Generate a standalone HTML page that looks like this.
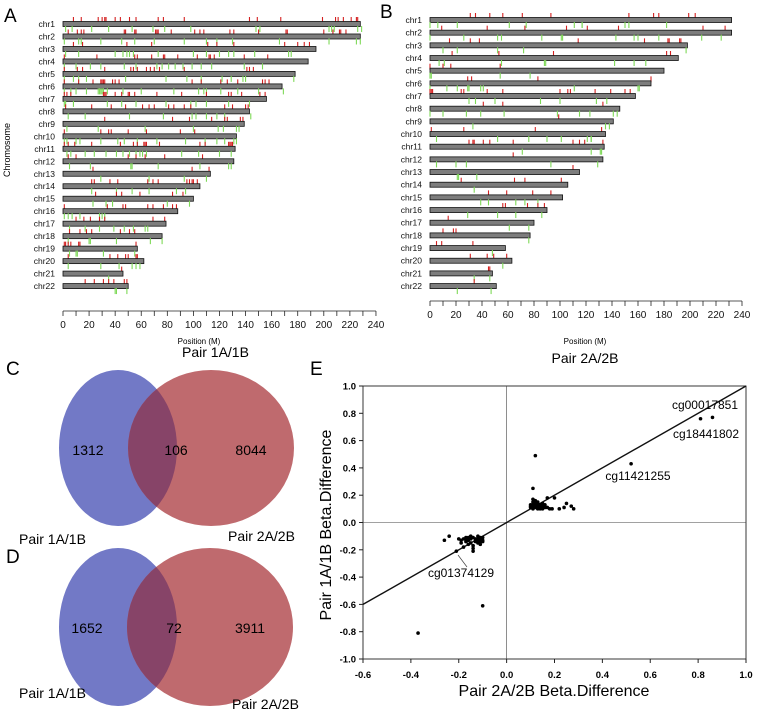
<!DOCTYPE html>
<html><head><meta charset="utf-8"><style>
body{margin:0;background:#fff;width:758px;height:714px;overflow:hidden;font-family:"Liberation Sans",Arial,sans-serif}
svg{position:absolute;left:0;top:0}
</style></head><body>
<svg id="fig" width="758" height="714" viewBox="0 0 758 714" font-family="Liberation Sans, Arial, sans-serif">
 <defs>
  <clipPath id="clipC"><ellipse cx="118" cy="448" rx="59" ry="78"/></clipPath>
  <clipPath id="clipD"><ellipse cx="118" cy="627" rx="59" ry="79"/></clipPath>
 </defs>
 <g id="panelA"></g>
 <g id="panelB"></g>
 <g id="venn">
  <text x="6" y="375" font-size="19">C</text>
  <text x="182" y="357" font-size="14">Pair 1A/1B</text>
  <ellipse cx="118" cy="448" rx="59" ry="78" fill="#7279c6"/>
  <ellipse cx="211" cy="448" rx="83" ry="78" fill="#bf6a6e"/>
  <ellipse cx="211" cy="448" rx="83" ry="78" fill="#874468" clip-path="url(#clipC)"/>
  <text x="88" y="455" font-size="14" text-anchor="middle">1312</text>
  <text x="176" y="455" font-size="14" text-anchor="middle">106</text>
  <text x="251" y="455" font-size="14" text-anchor="middle">8044</text>
  <text x="19" y="544" font-size="14">Pair 1A/1B</text>
  <text x="228" y="541" font-size="14">Pair 2A/2B</text>
  <text x="6" y="563" font-size="19">D</text>
  <ellipse cx="118" cy="627" rx="59" ry="79" fill="#7279c6"/>
  <ellipse cx="210" cy="627" rx="83" ry="79" fill="#bf6a6e"/>
  <ellipse cx="210" cy="627" rx="83" ry="79" fill="#874468" clip-path="url(#clipD)"/>
  <text x="87" y="633" font-size="14" text-anchor="middle">1652</text>
  <text x="174" y="633" font-size="14" text-anchor="middle">72</text>
  <text x="250" y="633" font-size="14" text-anchor="middle">3911</text>
  <text x="19" y="698" font-size="14">Pair 1A/1B</text>
  <text x="232" y="709" font-size="14">Pair 2A/2B</text>
 </g>
 <g id="panelE"></g>
</svg>
<script>
const NS="http://www.w3.org/2000/svg";
const chrNames=["chr1","chr2","chr3","chr4","chr5","chr6","chr7","chr8","chr9","chr10","chr11","chr12","chr13","chr14","chr15","chr16","chr17","chr18","chr19","chr20","chr21","chr22"];
const lengthsA=[228,228,194,188,178,168,156,143,139,133,132,131,113,105,100,88,79,76,57,62,46,50];
const lengthsB=[232,232,198,191,180,170,158,146,141,135,134,133,115,106,102,90,80,77,58,63,48,51];
const positionTicks=[0,20,40,60,80,100,120,140,160,180,200,220,240];
const redA=[[8,14,27,30,32,33,40,44,51,56,73,77,93,143,149,167,199,209,211,215,221,225,226],[4,11,14,16,47,48,55,56,71,72,73,83,101,105,108,128,131,150,171,172,200,207,212,213,217],[8,15,49,68,111,118,131,170,180,185,189],[1,26,55,57,68,77,78,88,103,112,113,116,139,157],[1,11,15,32,52,54,57,64,67,70,74,93,141,143,146],[1,12,23,29,30,31,32,38,40,43,99,106,121,126,134,153,155,158],[1,3,6,31,32,33,40,45,50,51,55,72,91,110,127,129,137,151,155],[2,22,37,48,61,66,70,81,85,93,98,124,130,140,142],[32,84,97,114,124,126,136,138],[1,29,35,37,50,64,90,101],[1,4,9,22,44,54,57,62,63,64,74,105,109,127,128,129,130],[4,10,50,56,63,78,107],[23,99,112],[22,24,36,42,65,69,73,95,97,99,100,103],[25,41,45,59,84,92],[1,34,46,48,65,69,77,84,87],[10,16,21,28,32,69,78],[5,13,18,22,44,51,55],[1,2,4,6,12,13,56],[4,36,42,48,50,56,57],[45],[17,24,31,35,39,47,49]];
const greenA=[[2,7,22,35,53,69,78,98,148,151,204,206,208,226,229],[1,12,14,29,45,55,70,93,110,118,130,166,204,225,228],[2,12,40,46,49,51,54,73,100,110,120,127,131,147,173,175],[1,10,21,29,47,56,72,76,81,86,92,99,106,114,139,153],[1,8,12,18,48,79,95,106,122,129,138,140,177],[1,6,10,18,27,28,29,30,31,34,46,60,85,104,108,110,121,134,150,169],[1,2,8,34,45,56,79,98,102,110,127,143],[4,17,51,77,99,102,110,118,124,144],[3,27,63,100,119,123,133,135],[1,3,10,13,29,42,47,57,72,94,109,118,124,131,133],[3,6,17,24,33,41,46,51,56,59,61,64,91,104,120,129],[5,21,52,53,73,105,127,129],[29,66,93,110],[22,41,53,66,87,94],[23,33,38,80,97],[1,4,7,13,28,30,32],[5,17,28,39,47,54,63,65],[4,20,21,41,67,76],[5,10,11,31,55],[4,29,43,53,56,59],[35],[40,41,49]];
const redB=[[31,35,46,56,71,93,153,172,176,199,204],[9,44,73,105,121,145,210,227],[15,31,38,114,165,183,184,192,193],[17,53,95,182,185],[0,10,16,54],[29,32,83,170],[0,1,2,24,26,44,56,100,106,108,127,139,150,154],[41,56,133],[99],[1,26,81,132],[30,33,34,41,46,64,110,115,119,133],[64],[110],[24,65,73,101],[45,59,79,93],[56,58,75,83,88],[14],[10,18,20],[5,9,33],[31,44,49,59],[45,46],[34]];
const greenB=[[0,6,21,61,74,111,117,117,150,153,182],[0,26,52,55,86,101,102,143,157,160,176,209,224],[10,21,52,72,197],[7,11,55,88,89,142,157,166],[0,1,54,77],[0,13,21,29,30,39,41,111,160,161],[30,35,50,85,100,128,136],[0,10,28,39,57,98,115,123,141,144],[33,135,138],[5,52,76,90,101,121,124,124],[71,124,131,132],[5,20,28,93,129],[21,22,36],[34],[39,45,66,73,83],[29,52,66,86],[61,76],[76],[48],[56],[34,46],[21,47]];

function mk(parent,tag,attrs,txt){const e=document.createElementNS(NS,tag);for(const k in attrs)e.setAttribute(k,attrs[k]);if(txt!==undefined)e.textContent=txt;parent.appendChild(e);return e;}

function chromPanel(g,cfg){
  const sx=v=>cfg.x0+v*cfg.k;
  const sy=i=>cfg.y0+i*cfg.dy;
  chrNames.forEach((n,i)=>{
    const y=sy(i);
    const t=mk(g,"text",{x:cfg.lx,y:y+3,"font-size":8.5,"text-anchor":"end",fill:"#111"},n);
    
    
    cfg.red[i].forEach(p=>{const l=mk(g,"line",{x1:sx(p),x2:sx(p),y1:y-7,y2:y-1,stroke:"#d42020","stroke-width":1.1});
      
      });
    const r=mk(g,"rect",{x:sx(0),y:y-2.5,width:cfg.len[i]*cfg.k,height:5,fill:"#7d7d7d",stroke:"#111","stroke-width":0.8});
    
    
    cfg.green[i].forEach(p=>{const l=mk(g,"line",{x1:sx(p),x2:sx(p),y1:y+2,y2:y+8,stroke:"#7ed957","stroke-width":1.1});
      
      });
  });
  const ax=mk(g,"line",{x1:sx(0),x2:sx(240),y1:cfg.ay,y2:cfg.ay,stroke:"#222","stroke-width":0.8});
  
  
  for(let v=0;v<=240;v+=10){mk(g,"line",{x1:sx(v),x2:sx(v),y1:cfg.ay,y2:cfg.ay+5,stroke:"#222","stroke-width":0.8});}
  positionTicks.forEach(v=>{const t=mk(g,"text",{x:sx(v),y:cfg.ay+17,"font-size":10,"text-anchor":"middle",fill:"#111"},String(v));
    
    });
  const xt=mk(g,"text",{x:cfg.xtX,y:344,"font-size":8,"text-anchor":"middle"},"Position (M)");
  
  
}
const gA=document.getElementById('panelA');
mk(gA,"text",{x:4,y:22,"font-size":19},"A");
chromPanel(gA,{x0:63,k:1.304,y0:24,dy:12.48,lx:55,ay:311,red:redA,green:greenA,len:lengthsA,xtX:199});
const yt=mk(gA,"text",{x:10,y:150,"font-size":9,"text-anchor":"middle",transform:"rotate(-90 10 150)"},"Chromosome");


const gB=document.getElementById('panelB');
mk(gB,"text",{x:380,y:18,"font-size":19},"B");
chromPanel(gB,{x0:430,k:1.3,y0:20,dy:12.67,lx:422,ay:301,red:redB,green:greenB,len:lengthsB,xtX:585});
const bt=mk(gB,"text",{x:585,y:363,"font-size":14,"text-anchor":"middle"},"Pair 2A/2B");



// Panel E scatter
const xVals=[0.12,0.11,0.52,0.81,0.86,-0.37,-0.10,-0.26,-0.24,-0.21,-0.14,0.20,0.17,0.22,0.24,0.25,0.27,0.28,0.19,0.16,
0.10,0.11,0.12,0.13,0.14,0.15,0.10,0.11,0.12,0.13,0.14,0.15,0.16,0.11,0.12,0.13,0.14,0.15,0.17,0.18,0.11,0.12,0.13,0.14,0.12,0.11,0.13,0.10,0.15,0.16,
-0.20,-0.19,-0.18,-0.17,-0.16,-0.15,-0.14,-0.13,-0.12,-0.11,-0.10,-0.19,-0.17,-0.15,-0.13,-0.12,-0.11,-0.10,-0.18,-0.16,-0.14,-0.12,-0.11,-0.13,-0.15,-0.17,-0.12,-0.10,-0.11,-0.14,-0.16];
const yVals=[0.49,0.25,0.43,0.76,0.77,-0.81,-0.61,-0.13,-0.10,-0.21,-0.21,0.18,0.18,0.10,0.11,0.14,0.12,0.10,0.10,0.11,
0.11,0.12,0.13,0.14,0.12,0.11,0.13,0.15,0.16,0.12,0.10,0.13,0.12,0.10,0.11,0.11,0.13,0.14,0.11,0.10,0.17,0.14,0.15,0.11,0.12,0.13,0.10,0.12,0.10,0.13,
-0.12,-0.13,-0.12,-0.11,-0.13,-0.12,-0.11,-0.13,-0.12,-0.11,-0.13,-0.15,-0.14,-0.15,-0.14,-0.15,-0.12,-0.11,-0.18,-0.16,-0.17,-0.14,-0.14,-0.12,-0.10,-0.12,-0.10,-0.14,-0.16,-0.19,-0.11];
const xTicks=[-0.6,-0.4,-0.2,0.0,0.2,0.4,0.6,0.8,1.0];
const yTicks=[-1.0,-0.8,-0.6,-0.4,-0.2,0.0,0.2,0.4,0.6,0.8,1.0];
const X=v=>363+(v+0.6)/1.6*383;
const Y=v=>659-(v+1)/2*273;
const gE=document.getElementById('panelE');
mk(gE,"text",{x:310,y:375,"font-size":19},"E");
const fr=mk(gE,"rect",{x:X(-0.6),y:Y(1),width:X(1)-X(-0.6),height:Y(-1)-Y(1),fill:"none",stroke:"#222","stroke-width":0.9});


mk(gE,"line",{x1:X(0),x2:X(0),y1:Y(1),y2:Y(-1),stroke:"#444","stroke-width":0.6});
mk(gE,"line",{x1:X(-0.6),x2:X(1),y1:Y(0),y2:Y(0),stroke:"#444","stroke-width":0.6});
const dl=mk(gE,"line",{x1:X(-0.6),y1:Y(-0.6),x2:X(1),y2:Y(1),stroke:"#111","stroke-width":1.4});


xTicks.forEach(v=>{mk(gE,"line",{x1:X(v),x2:X(v),y1:Y(-1),y2:Y(-1)+4,stroke:"#222"});
  const t=mk(gE,"text",{x:X(v),y:Y(-1)+19,"font-size":9.5,"font-weight":"bold","text-anchor":"middle"},v.toFixed(1));
  
  });
yTicks.forEach(v=>{mk(gE,"line",{x1:X(-0.6)-4,x2:X(-0.6),y1:Y(v),y2:Y(v),stroke:"#222"});
  const t=mk(gE,"text",{x:X(-0.6)-7,y:Y(v)+3.5,"font-size":9.5,"font-weight":"bold","text-anchor":"end"},v.toFixed(1));
  
  });
xVals.forEach((v,i)=>{const c=mk(gE,"circle",{cx:X(v),cy:Y(yVals[i]),r:1.8,fill:"#000"});
  
  });
const xt=mk(gE,"text",{x:554,y:696,"font-size":16,"text-anchor":"middle"},"Pair 2A/2B Beta.Difference");


const ytE=mk(gE,"text",{x:331,y:525,"font-size":16,"text-anchor":"middle",transform:"rotate(-90 331 525)"},"Pair 1A/1B Beta.Difference");


[["cg00017851",705,409],["cg18441802",706,438],["cg11421255",638,480],["cg01374129",461,577]].forEach(a=>{
  const t=mk(gE,"text",{x:a[1],y:a[2],"font-size":12,"text-anchor":"middle"},a[0]);
  
  });
mk(gE,"line",{x1:458,y1:555,x2:467,y2:567,stroke:"#444","stroke-width":0.7});
</script>
</body></html>
